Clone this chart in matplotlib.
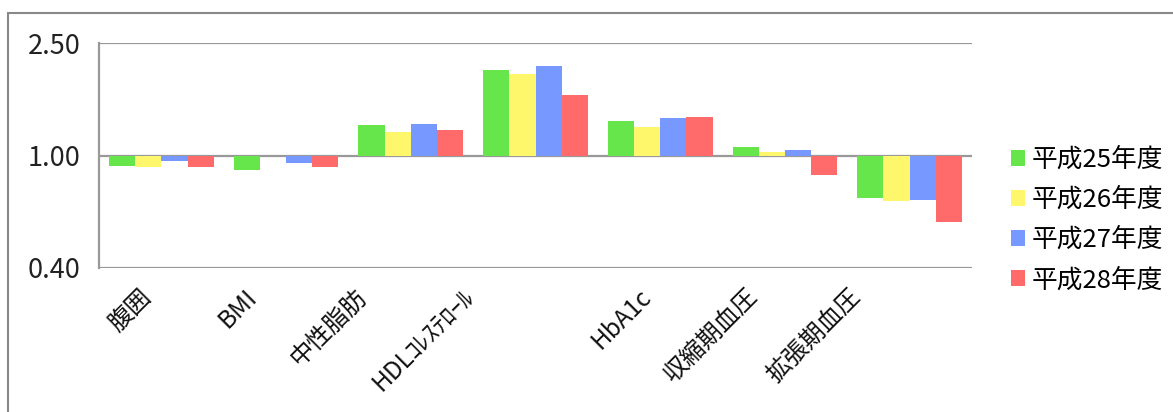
import matplotlib
matplotlib.use("Agg")
import matplotlib.pyplot as plt
from matplotlib.patches import Patch, Rectangle
import numpy as np

plt.rcParams['font.family'] = ['Noto Sans CJK JP', 'DejaVu Sans']

categories = ["腹囲", "BMI", "中性脂肪", "HDLｺﾚｽﾃﾛｰﾙ", "HbA1c", "収縮期血圧", "拡張期血圧"]
series_names = ["平成25年度", "平成26年度", "平成27年度", "平成28年度"]
h25 = [0.916, 0.892, 1.277, 2.012, 1.323, 1.076, 0.706]
h26 = [0.909, 0.996, 1.209, 1.937, 1.257, 1.027, 0.691]
h27 = [0.958, 0.942, 1.295, 2.079, 1.352, 1.047, 0.695]
h28 = [0.907, 0.907, 1.233, 1.641, 1.364, 0.854, 0.580]
y_ticks = [0.40, 1.00, 2.50]
y_tick_labels = ["0.40", "1.00", "2.50"]

colors = ["#66E64B", "#FFF76B", "#7799FF", "#FF6B6B"]
# horizontal nudge (pixels) of each rotated category label
label_dx = [-14, -33, -48, -66, -13, -32, -53]

W, H = 1173, 412
fig = plt.figure(figsize=(W / 100, H / 100), dpi=100)
fig.patch.set_facecolor("white")

# outer chart frame
fig.patches.append(Rectangle((8 / W, -0.2), 1.2, 1.2 - 13 / H,
                             transform=fig.transFigure, fill=False,
                             edgecolor="#888888", linewidth=1.5))

ax = fig.add_axes([99 / W, 1 - 268 / H, (972 - 99) / W, (268 - 43) / H])
ax.set_yscale("log")
ax.set_ylim(0.40, 2.50)
ax.set_xlim(-0.5, len(categories) - 0.5)

x = np.arange(len(categories))
bw = 0.21
for k, (vals, col, name) in enumerate(zip([h25, h26, h27, h28], colors, series_names)):
    v = np.array(vals)
    ax.bar(x + (k - 1.5) * bw, v - 1.0, bottom=1.0, width=bw, color=col,
           edgecolor="none", label=name, zorder=3)

for yv in y_ticks:
    ax.axhline(yv, color="#999999", linewidth=1.6, zorder=2)

for s in ["top", "right", "bottom"]:
    ax.spines[s].set_visible(False)
ax.spines["left"].set_color("#999999")
ax.spines["left"].set_linewidth(1.6)

ax.set_yticks(y_ticks)
ax.set_yticklabels(y_tick_labels, fontsize=19.5, color="#222222")
ax.yaxis.set_minor_locator(matplotlib.ticker.NullLocator())
ax.tick_params(axis="y", length=0, pad=13.5)
ax.set_xticks([])

for i, (lab, dx) in enumerate(zip(categories, label_dx)):
    ax.annotate(lab, xy=(i, 0), xycoords=ax.get_xaxis_transform(),
                xytext=(dx, -25), textcoords="offset pixels",
                rotation=45, rotation_mode="anchor", ha="right", va="center",
                fontsize=17.5, color="#111111", annotation_clip=False)

handles = [Patch(facecolor=c, edgecolor="none") for c in colors]
fig.legend(handles, series_names, loc="upper left",
           bbox_to_anchor=(998 / W, 1 - 134 / H), frameon=False,
           fontsize=18.5, handlelength=0.55, handleheight=0.6,
           handletextpad=0.25, labelspacing=0.55, borderpad=0)

fig.savefig("out.png", dpi=100)
